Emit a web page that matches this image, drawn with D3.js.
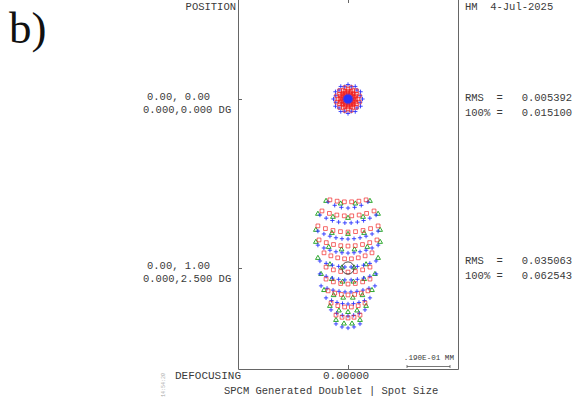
<!DOCTYPE html>
<html>
<head>
<meta charset="utf-8">
<script src="https://cdn.jsdelivr.net/npm/d3@7"></script>
<style>
  body { margin: 0; background: #fff; }
  text { font-family: "Liberation Mono", "DejaVu Sans Mono", monospace; fill: #3a3a3a; }
</style>
</head>
<body>
<script>
const width = 576;
const height = 401;

// field labels and spot statistics
const fieldPositions = ['0.00, 0.00', '0.00, 1.00'];
const fieldAngles = ['0.000,0.000 DG', '0.000,2.500 DG'];
const rmsRadius = ['0.005392', '0.035063'];
const geoRadius = ['0.015100', '0.062543'];
const defocus = '0.00000';
const scaleBarLabel = '.190E-01 MM';
const scaleBarUm = 19;

// on-axis spot: rings of ray intercepts [radius um, count, start angle deg, wave]
const spotRings0 = [
    [6.4, 12, 0, 'blue'],
    [5.6, 12, 15, 'blue'],
    [5.2, 12, 15, 'red'],
    [4.3, 12, 0, 'red'],
    [3.4, 16, 0, 'red'],
    [2.8, 14, 10, 'red'],
    [2.2, 12, 0, 'red'],
    [1.5, 10, 0, 'blue'],
    [1.1, 10, 18, 'blue'],
    [0.7, 8, 0, 'blue'],
    [0.35, 6, 30, 'blue'],
    [0.0, 1, 0, 'blue']
];

// off-axis spot: curved rows of ray intercepts [y um, half width um, edge lift um, count]
const redRows = [
    [-29.2, 8.0, 0.9, 6],
    [-23.0, 11.5, 2.2, 8],
    [-15.9, 13.3, 2.7, 9],
    [-9.7, 12.8, 2.7, 9],
    [-4.0, 10.6, 2.7, 8],
    [1.8, 9.7, 2.2, 7],
    [7.1, 9.7, 2.2, 7],
    [11.9, 8.8, 1.8, 7],
    [17.3, 7.5, 1.8, 6],
    [22.1, 5.3, 1.3, 5]
];
const blueRows = [
    [-26.5, 8.8, 2.7, 7],
    [-19.9, 12.4, 3.5, 10],
    [-12.8, 13.3, 3.5, 11],
    [-6.6, 13.3, 3.5, 11],
    [-0.4, 12.4, 2.7, 10],
    [5.3, 12.4, 2.7, 10],
    [10.6, 11.9, 2.7, 10],
    [15.9, 9.7, 2.7, 9],
    [21.2, 7.5, 2.7, 7],
    [26.5, 5.3, 1.8, 5]
];
const greenRows = [
    [-28.3, 9.7, 1.3, 4],
    [-22.1, 13.3, 1.8, 5],
    [-15.0, 14.2, 1.8, 5],
    [-8.0, 14.2, 3.5, 6],
    [0.0, 13.3, 4.4, 6],
    [6.2, 11.9, 3.5, 6],
    [13.3, 10.6, 3.5, 6],
    [19.5, 8.0, 2.7, 5],
    [24.8, 5.3, 1.8, 4]
];
const airyRadiusUm = 2.7;

const colors = {blue: '#2a36ff', green: '#19a019', red: '#f02020'};
const symbols = {blue: d3.symbolPlus, green: d3.symbolTriangle2, red: d3.symbolSquare2};
const symSize = {blue: 7, green: 16, red: 18};

const frame = {left: 238, right: 458, top: 0, bottom: 369};
const fieldCentersPx = [99, 268];

const x = d3.scaleLinear()
    .domain([-48.6, 48.6])
    .range([frame.left, frame.right]);
const pxPerUm = (x(1) - x(0));

const svg = d3.select('body').append('svg')
    .attr('width', width)
    .attr('height', height);

// panel label
svg.append('text')
    .attr('x', 9).attr('y', 43)
    .style('font-family', '"Liberation Serif", "Times New Roman", serif')
    .style('font-size', '45px')
    .style('fill', '#111')
    .text('b)');

// frame
const g = svg.append('g')
    .attr('stroke', '#666')
    .attr('stroke-width', 1)
    .attr('fill', 'none');
g.append('path')
    .attr('d', `M${frame.left + 0.5},${frame.top}V${frame.bottom + 0.5}H${frame.right + 0.5}V${frame.top}`);
g.append('line').attr('x1', 348.5).attr('x2', 348.5).attr('y1', frame.bottom).attr('y2', frame.bottom - 4);
g.append('line').attr('x1', 348.5).attr('x2', 348.5).attr('y1', 0).attr('y2', 3);
fieldCentersPx.forEach(cy => {
    g.append('line').attr('x1', frame.left).attr('x2', frame.left + 4)
        .attr('y1', cy + 0.5).attr('y2', cy + 0.5);
});

const txt = (xx, yy, s, size, anchor) => svg.append('text')
    .attr('x', xx).attr('y', yy)
    .attr('text-anchor', anchor || 'start')
    .style('font-size', (size || 10.5) + 'px')
    .style('white-space', 'pre')
    .text(s);

txt(236, 10, 'POSITION', 10.5, 'end');
txt(465, 10, 'HM  4-Jul-2025');

fieldCentersPx.forEach((cy, i) => {
    txt(147, cy + 1, fieldPositions[i]);
    txt(143, cy + 14, fieldAngles[i]);
    txt(465, cy + 2 - i * 6, 'RMS  =   ' + rmsRadius[i]);
    txt(465, cy + 17 - i * 6, '100% =   ' + geoRadius[i]);
});

txt(175, 379, 'DEFOCUSING', 11);
txt(323, 379, defocus, 11);
txt(224, 394, 'SPCM Generated Doublet | Spot Size', 10.5);

svg.append('text')
    .attr('transform', 'translate(165,397) rotate(-90)')
    .style('font-size', '5px')
    .style('fill', '#aaa')
    .text('14:54:20');

// scale bar
txt(454, 360, scaleBarLabel, 7.6, 'end');
const sb0 = 407, sb1 = sb0 + scaleBarUm * pxPerUm;
const sb = svg.append('g').attr('stroke', '#555').attr('stroke-width', 0.8);
sb.append('line').attr('x1', sb0).attr('x2', sb1).attr('y1', 366.5).attr('y2', 366.5);
sb.append('line').attr('x1', sb0).attr('x2', sb0).attr('y1', 365).attr('y2', 368);
sb.append('line').attr('x1', sb1).attr('x2', sb1).attr('y1', 365).attr('y2', 368);

// build ray points
function ringPoints(rings) {
    const pts = [];
    rings.forEach(([r, n, a0, wave]) => {
        d3.range(n).forEach(k => {
            const a = (a0 + k * 360 / n) * Math.PI / 180;
            pts.push({x: r * Math.cos(a), y: r * Math.sin(a), wave: wave});
        });
    });
    return pts;
}
function rowPoints(rows, wave) {
    const pts = [];
    rows.forEach(([yc, hw, lift, n]) => {
        d3.range(n).forEach(k => {
            const t = n === 1 ? 0 : -1 + 2 * k / (n - 1);
            pts.push({x: t * hw, y: yc - lift * t * t, wave: wave});
        });
    });
    return pts;
}

const spots = [
    ringPoints(spotRings0),
    [].concat(rowPoints(greenRows, 'green'), rowPoints(blueRows, 'blue'), rowPoints(redRows, 'red'))
];

spots.forEach((pts, i) => {
    const y = d3.scaleLinear()
        .domain([-10, 10])
        .range([fieldCentersPx[i] - 10 * pxPerUm, fieldCentersPx[i] + 10 * pxPerUm]);
    svg.append('g')
        .attr('fill', 'none')
        .attr('stroke-width', 0.9)
        .selectAll('path')
        .data(pts)
        .enter().append('path')
        .attr('transform', d => `translate(${x(d.x)},${y(d.y)})`)
        .attr('stroke', d => colors[d.wave])
        .attr('stroke-opacity', d => d.wave === 'red' ? 0.75 : 1)
        .attr('d', d => d3.symbol(symbols[d.wave], symSize[d.wave])());
    if (i === 1) {
        svg.append('circle')
            .attr('cx', x(0)).attr('cy', y(0))
            .attr('r', airyRadiusUm * pxPerUm)
            .attr('fill', 'none')
            .attr('stroke', '#333')
            .attr('stroke-width', 0.9);
    }
});
</script>
</body>
</html>
